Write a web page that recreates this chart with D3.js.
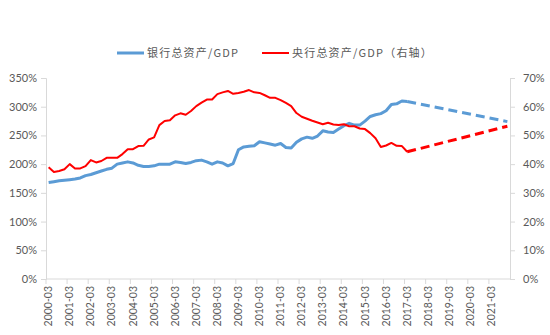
<!DOCTYPE html>
<html><head><meta charset="utf-8">
<script src="https://cdn.jsdelivr.net/npm/d3@7"></script>
<style>
html,body{margin:0;padding:0;background:#fff;}
svg{display:block;}
</style></head>
<body><svg id="c" width="550" height="335"></svg>
<script>
// ---- data ----
const years = d3.range(2000, 2022);
const months = ["03","06","09","12"];
const categories = [];
years.forEach(y => months.forEach(m => categories.push(y + "-" + m)));
const tickLabels = years.map(y => y + "-03");

// 银行总资产/GDP (%), quarterly 2000-03 .. 2017-03
const bankActual = [168,169.5,171,172,173,174,176,180,182,185,188,191,193,200,202,204,202,198,196,196,
  197,200,200,200,204,203,201,203,206,207,204,200,204,202,197,201,225,230,231,232,
  239,237,235,233,236,229,228,238,244,247,245,249,258,256,255,261,267,271,268,268,
  275,283,286,288,293,304,305,310,309];
// 央行总资产/GDP (%, right axis)
const cbActual = [38.9,37.3,37.6,38.2,40.0,38.5,38.5,39.3,41.4,40.6,41.1,42.2,42.2,42.2,43.5,45.2,45.2,46.3,46.4,48.6,
  49.3,53.6,55.0,55.3,57.0,57.7,57.2,58.5,60.2,61.4,62.5,62.5,64.4,65.0,65.5,64.5,64.8,65.2,65.8,65.0,
  64.8,64.0,63.1,63.1,62.3,61.3,60.2,57.8,56.5,55.8,55.1,54.5,53.9,54.4,53.8,53.6,53.9,53.2,53.2,52.4,
  52.2,50.8,49.0,46.0,46.5,47.4,46.4,46.3,44.3];
// projections (dashed)
const projCats = ["2017-03","2021-12"];
const bankProj = [309, 274];
const cbProj = [44.3, 53.2];

const leftTicks = [0,50,100,150,200,250,300,350];
const rightTicks = [0,10,20,30,40,50,60,70];
const legendLabels = ["银行总资产/GDP", "央行总资产/GDP（右轴）"];

// ---- layout ----
const svg = d3.select("#c");
const L = 46, R = 510, T = 78, B = 279;
const x = d3.scaleBand().domain(categories).range([L, R]);
const xc = c => x(c) + x.bandwidth()/2;
const yL = d3.scaleLinear().domain([0,350]).range([B, T]);
const yR = d3.scaleLinear().domain([0,70]).range([B, T]);
const gray = "#d9d9d9", txt = "#595959";
const font = "Lato, 'Liberation Sans', sans-serif";

// left axis
const axL = svg.append("g").attr("transform", `translate(${L},0)`)
  .call(d3.axisLeft(yL).tickValues(leftTicks).tickFormat(d => d + "%").tickSize(5).tickPadding(4));
// right axis
const axR = svg.append("g").attr("transform", `translate(${R},0)`)
  .call(d3.axisRight(yR).tickValues(rightTicks).tickFormat(d => d + "%").tickSize(5).tickPadding(8));
[axL, axR].forEach(a => {
  a.selectAll("path,line").attr("stroke", gray);
  a.selectAll("text").attr("fill", txt).style("font-family", font).style("font-size", "11px");
});

// bottom axis
const axB = svg.append("g").attr("transform", `translate(0,${B})`);
axB.append("line").attr("x1", L).attr("x2", R).attr("stroke", gray);
categories.forEach((c, i) => {
  if (i % 4 === 0) axB.append("line").attr("x1", x(c)).attr("x2", x(c)).attr("y1", 0).attr("y2", 5).attr("stroke", gray);
});
axB.selectAll("text.xl").data(tickLabels).enter().append("text")
  .attr("class","xl")
  .attr("transform", d => `translate(${xc(d)+3.5},${7}) rotate(-90)`)
  .attr("text-anchor", "end")
  .attr("fill", txt).style("font-family", font).style("font-size", "10.5px")
  .text(d => d);

// lines
const lineL = d3.line().x((d,i) => xc(categories[i])).y(d => yL(d));
const lineR = d3.line().x((d,i) => xc(categories[i])).y(d => yR(d));
const lineLP = d3.line().x((d,i) => xc(projCats[i])).y(d => yL(d));
const lineRP = d3.line().x((d,i) => xc(projCats[i])).y(d => yR(d));

svg.append("path").attr("d", lineLP(bankProj)).attr("fill","none").attr("stroke","#5B9BD5")
  .attr("stroke-width",3).attr("stroke-dasharray","9,5");
svg.append("path").attr("d", lineRP(cbProj)).attr("fill","none").attr("stroke","#FF0000")
  .attr("stroke-width",3).attr("stroke-dasharray","9,5");
svg.append("path").attr("d", lineL(bankActual)).attr("fill","none").attr("stroke","#5B9BD5")
  .attr("stroke-width",3).attr("stroke-linejoin","round");
svg.append("path").attr("d", lineR(cbActual)).attr("fill","none").attr("stroke","#FF0000")
  .attr("stroke-width",2).attr("stroke-linejoin","round");

// legend
const lg = svg.append("g");
const items = [{x:117, c:"#5B9BD5", w:3, t:legendLabels[0]}, {x:262, c:"#FF0000", w:2, t:legendLabels[1]}];
items.forEach(it => {
  lg.append("line").attr("x1", it.x).attr("x2", it.x+27).attr("y1", 53).attr("y2", 53)
    .attr("stroke", it.c).attr("stroke-width", it.w);
  lg.append("text").attr("x", it.x+30).attr("y", 57).attr("fill", txt)
    .style("font-family", "'Noto Sans CJK SC', sans-serif").style("font-size", "11px")
    .style("letter-spacing", "1.2px").text(it.t);
});
</script></body></html>
